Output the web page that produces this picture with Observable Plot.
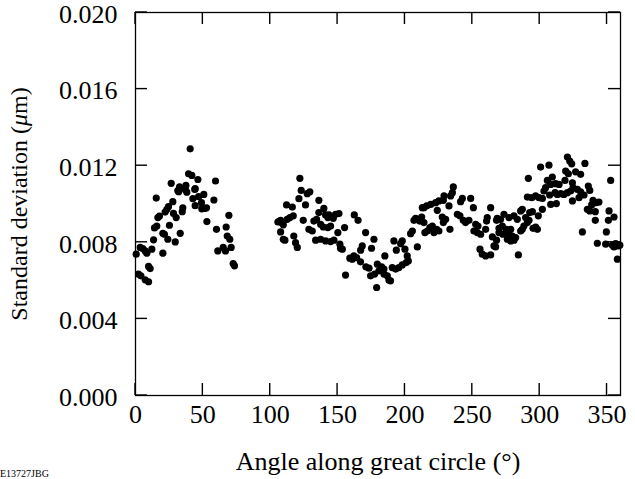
<!DOCTYPE html>
<html>
<head>
<meta charset="utf-8">
<script src="https://cdn.jsdelivr.net/npm/d3@7"></script>
<script src="https://cdn.jsdelivr.net/npm/@observablehq/plot@0.6"></script>
<style>
  body { margin: 0; background: #fff; }
  #wrap { position: relative; width: 635px; height: 479px; }
  #fig-id { position: absolute; left: 0; bottom: 0; font: 10px "Liberation Serif", serif; color: #000; line-height: 10px; }
</style>
</head>
<body>
<div id="wrap"></div>
<script>
// Measured standard deviation (µm) versus angle along the great circle (degrees).
// First arc: 0–75°
const arcAAngle = [
  0.5, 2.2, 3.5, 4.0, 5.4, 7.2, 7.2, 8.4, 9.7, 9.7, 10.9, 12.1, 13.4, 14.1, 15.4, 15.8,
  16.6, 17.8, 20.3, 20.3, 21.5, 22.0, 23.3, 24.0, 24.5, 25.2, 26.5, 27.7, 28.2, 29.5,
  30.2, 31.4, 32.0, 32.7, 33.2, 34.7, 35.1, 37.0, 37.4, 38.1, 39.4, 40.6, 41.8, 42.6,
  44.0, 44.3, 44.3, 46.3, 46.8, 49.0, 49.2, 50.7, 51.2, 52.7, 53.0, 58.2, 59.4, 60.1,
  61.1, 65.1, 66.8, 67.3, 68.1, 69.3, 70.0, 71.0, 72.5, 73.5
];
const arcASigma = [
  0.00738, 0.00634, 0.00773, 0.00625, 0.00767, 0.00755, 0.00604, 0.00743, 0.00674, 0.00594, 0.00663, 0.00764, 0.00813, 0.00875, 0.01031, 0.00885,
  0.00929, 0.00937, 0.00847, 0.00743, 0.00842, 0.00958, 0.00972, 0.00816, 0.00986, 0.00889, 0.01108, 0.01012, 0.00951, 0.00802,
  0.00929, 0.01070, 0.01064, 0.01090, 0.00847, 0.00960, 0.00980, 0.01075, 0.01097, 0.01062, 0.01158, 0.01288, 0.01149, 0.01028,
  0.01076, 0.01080, 0.00991, 0.01128, 0.01038, 0.01007, 0.00975, 0.01050, 0.00977, 0.00980, 0.00908, 0.01021, 0.01120, 0.00868,
  0.00755, 0.00773, 0.00755, 0.00880, 0.00833, 0.00941, 0.00816, 0.00773, 0.00689, 0.00677
];

// Second arc: 105–360°
const arcBAngle = [
  105.7, 106.4, 107.7, 107.7, 108.2, 109.7, 109.7, 110.9, 112.1, 112.6, 114.6, 116.4, 117.1, 117.5, 118.8, 120.1,
  121.3, 122.0, 123.0, 124.5, 126.2, 127.5, 128.7, 129.4, 131.2, 132.4, 133.7, 134.4, 136.1, 136.1, 137.4, 137.4,
  139.4, 139.8, 141.1, 141.1, 142.8, 142.8, 143.6, 144.8, 144.8, 146.8, 147.3, 148.5, 150.2, 151.0, 151.7, 152.2,
  153.5, 155.2, 155.9, 159.1, 160.9, 162.4, 162.1, 164.1, 165.2, 167.1, 167.0, 168.3, 170.8, 171.0, 173.3, 174.5,
  175.2, 177.0, 177.5, 179.0, 179.5, 180.7, 182.7, 184.4, 184.4, 185.1, 186.9, 188.1, 189.3, 190.6, 191.8, 193.1,
  193.6, 195.5, 196.8, 198.0, 198.0, 200.0, 201.0, 201.7, 202.5, 204.2, 205.5, 206.7, 207.9, 209.2, 210.9, 211.6,
  212.4, 212.9, 214.1, 214.1, 214.8, 216.1, 216.6, 218.5, 219.1, 220.3, 221.5, 222.8, 223.5, 224.0, 225.2, 225.2,
  227.7, 228.5, 228.5, 229.0, 230.2, 232.7, 233.4, 233.9, 235.2, 235.9, 238.9, 240.8, 241.3, 242.6, 243.3, 245.0,
  247.5, 248.8, 250.8, 251.2, 252.5, 253.7, 254.2, 255.7, 256.2, 257.4, 259.9, 259.9, 260.6, 261.1, 263.6, 263.6,
  264.9, 266.1, 267.3, 268.0, 268.0, 268.5, 269.8, 269.8, 271.0, 272.3, 272.7, 273.5, 275.0, 276.0, 277.2, 277.2,
  278.5, 278.5, 279.7, 280.9, 281.0, 282.2, 283.4, 284.2, 285.9, 285.9, 287.1, 287.1, 288.3, 289.6, 290.9, 290.9,
  291.6, 292.1, 292.6, 294.1, 294.6, 295.1, 297.0, 297.0, 298.3, 299.0, 299.5, 300.7, 302.0, 302.0, 303.2, 304.4,
  305.7, 306.9, 307.4, 308.2, 308.2, 309.4, 311.4, 311.9, 312.4, 313.1, 314.4, 315.6, 318.0, 318.8, 319.3, 320.6,
  320.6, 321.3, 322.3, 323.0, 323.8, 324.3, 324.3, 324.8, 326.7, 328.0, 329.2, 330.4, 330.4, 331.7, 332.9, 333.6,
  335.4, 336.1, 337.2, 337.2, 338.6, 339.6, 341.3, 341.3, 341.6, 342.8, 344.0, 349.0, 349.5, 351.0, 351.5, 352.7,
  354.0, 355.2, 355.2, 356.4, 357.7, 358.4, 359.5
];
const arcBSigma = [
  0.00906, 0.00908, 0.00854, 0.00915, 0.00903, 0.00816, 0.00891, 0.00811, 0.00995, 0.00920, 0.00929, 0.00984, 0.00938, 0.00833, 0.00798, 0.00773,
  0.01028, 0.01134, 0.01071, 0.00915, 0.00995, 0.01054, 0.00868, 0.01064, 0.00859, 0.00911, 0.00811, 0.00920, 0.01019, 0.00955, 0.00816, 0.00894,
  0.00880, 0.00977, 0.00943, 0.00807, 0.00929, 0.00877, 0.00943, 0.00885, 0.00804, 0.00925, 0.00811, 0.00946, 0.00851, 0.00950, 0.00790, 0.00769,
  0.00764, 0.00877, 0.00629, 0.00717, 0.00712, 0.00943, 0.00729, 0.00720, 0.00915, 0.00759, 0.00698, 0.00781, 0.00851, 0.00672, 0.00665, 0.00625,
  0.00769, 0.00816, 0.00634, 0.00564, 0.00686, 0.00651, 0.00672, 0.00634, 0.00660, 0.00729, 0.00625, 0.00603, 0.00599, 0.00668, 0.00807, 0.00660,
  0.00759, 0.00668, 0.00793, 0.00807, 0.00682, 0.00764, 0.00694, 0.00729, 0.00703, 0.00845, 0.00859, 0.00915, 0.00925, 0.00776, 0.00911, 0.00920,
  0.00932, 0.00981, 0.00981, 0.00903, 0.00851, 0.00990, 0.00859, 0.00877, 0.00998, 0.00885, 0.00851, 0.01007, 0.00868, 0.00967, 0.01016, 0.00859,
  0.00932, 0.01019, 0.00903, 0.01042, 0.00920, 0.00990, 0.00868, 0.01042, 0.01059, 0.01089, 0.00946, 0.00938, 0.01012, 0.01029, 0.00915, 0.00903,
  0.00915, 0.01029, 0.00981, 0.00859, 0.00894, 0.00851, 0.00885, 0.00764, 0.00842, 0.00738, 0.00868, 0.00729, 0.00911, 0.00929, 0.00981, 0.00734,
  0.00828, 0.00781, 0.00776, 0.00915, 0.00811, 0.00925, 0.00873, 0.00851, 0.00920, 0.00885, 0.00842, 0.00946, 0.00868, 0.00816, 0.00929, 0.00845,
  0.00868, 0.00807, 0.00833, 0.00938, 0.00811, 0.00825, 0.00920, 0.00734, 0.00964, 0.00859, 0.00972, 0.00868, 0.00885, 0.00929, 0.01036, 0.00903,
  0.01134, 0.00915, 0.00955, 0.01033, 0.00960, 0.00873, 0.01042, 0.00880, 0.00868, 0.00938, 0.01033, 0.01193, 0.01029, 0.00972, 0.01068, 0.01085,
  0.01123, 0.01203, 0.01047, 0.01102, 0.00998, 0.01141, 0.01059, 0.01106, 0.01002, 0.01050, 0.01102, 0.01054, 0.01050, 0.01123, 0.01172, 0.01245,
  0.01059, 0.01158, 0.01224, 0.01068, 0.01210, 0.01111, 0.01016, 0.01085, 0.01168, 0.01076, 0.01033, 0.01155, 0.01064, 0.00854, 0.01047, 0.01212,
  0.00972, 0.01094, 0.01071, 0.00964, 0.00995, 0.01019, 0.00960, 0.00915, 0.01007, 0.00795, 0.01010, 0.00790, 0.00854, 0.00915, 0.00964, 0.01123,
  0.00785, 0.00932, 0.00776, 0.00793, 0.00712, 0.00781, 0.00785
];

// Axis ticks
const xTicks = [0, 50, 100, 150, 200, 250, 300, 350];
const yTicks = [0, 0.004, 0.008, 0.012, 0.016, 0.020];

const points = [
  ...arcAAngle.map((a, i) => ({angle: a, sigma: arcASigma[i]})),
  ...arcBAngle.map((a, i) => ({angle: a, sigma: arcBSigma[i]}))
];

// Layout
const W = 635, H = 479;
const mL = 135, mR = 15, mT = 12, mB = 84;
const innerW = W - mL - mR, innerH = H - mT - mB;
const tickLen = 12;
const half = 0.7; // half of the tick thickness

const chart = Plot.plot({
  width: W,
  height: H,
  marginLeft: mL,
  marginRight: mR,
  marginTop: mT,
  marginBottom: mB,
  style: {fontFamily: '"Liberation Serif", "Times New Roman", serif', fontSize: "26px", background: "#fff", color: "#000", overflow: "visible"},
  x: {domain: [0, 360]},
  y: {domain: [0, 0.02]},
  marks: [
    Plot.dot(points, {x: "angle", y: "sigma", r: 3.6, fill: "black"}),
    // inward-pointing ticks on all four sides, drawn as thin filled rects
    Plot.rect(xTicks, {x1: d => d, x2: d => d, insetLeft: -half, insetRight: -half,
      insetTop: innerH - tickLen, fill: "black"}),
    Plot.rect(xTicks, {x1: d => d, x2: d => d, insetLeft: -half, insetRight: -half,
      insetBottom: innerH - tickLen, fill: "black"}),
    Plot.rect(yTicks, {y1: d => d, y2: d => d, insetTop: -half, insetBottom: -half,
      insetRight: innerW - tickLen, fill: "black"}),
    Plot.rect(yTicks, {y1: d => d, y2: d => d, insetTop: -half, insetBottom: -half,
      insetLeft: innerW - tickLen, fill: "black"}),
    Plot.frame({stroke: "black", strokeWidth: 1.3}),
    // tick labels and axis titles
    Plot.axisX(xTicks, {anchor: "bottom", tickSize: 0, tickPadding: 9,
      label: "Angle along great circle (°)", labelAnchor: "center", labelOffset: 74, labelArrow: false}),
    Plot.axisY(yTicks, {anchor: "left", tickSize: 0, tickPadding: 18, dy: 2,
      tickFormat: d3.format(".3f"), label: "Standard deviation (μm)", labelAnchor: "center",
      labelOffset: 126, labelArrow: false})
  ]
});

// Smaller y-axis title with an italic µ
d3.select(chart).selectAll("text").each(function () {
  const t = d3.select(this);
  if (t.text() === "Standard deviation (μm)") {
    t.text(null).attr("font-size", 24);
    t.append("tspan").text("Standard deviation (");
    t.append("tspan").attr("font-style", "italic").text("μ");
    t.append("tspan").text("m)");
  }
});

const wrap = document.getElementById("wrap");
wrap.appendChild(chart);
const id = document.createElement("div");
id.id = "fig-id";
id.textContent = "E13727JBG";
wrap.appendChild(id);
</script>
</body>
</html>
